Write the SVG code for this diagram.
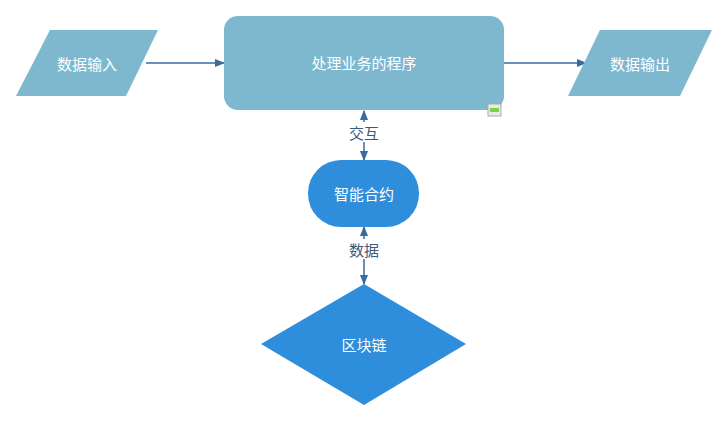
<svg xmlns="http://www.w3.org/2000/svg" width="723" height="427" viewBox="0 0 723 427">
<style>
.lt{fill:#7db8cf}
.dk{fill:#2f8edb}
.t{font-family:"Noto Sans CJK SC",sans-serif;font-size:15px;fill:#fff;text-anchor:middle;dominant-baseline:central}
.l{font-family:"Noto Sans CJK SC",sans-serif;font-size:15px;fill:#3d5a78;text-anchor:middle;dominant-baseline:central}
.c{stroke:#3a6aa0;stroke-width:1.5;fill:none}
</style>
<defs>
<marker id="a" viewBox="0 0 10 10" refX="9" refY="5" markerWidth="7" markerHeight="7" orient="auto-start-reverse"><path d="M0,1 L10,5 L0,9 z" fill="#3a6aa0"/></marker>
</defs>
<rect width="723" height="427" fill="#fff"/>
<g id="connectors">
<line class="c" x1="146" y1="63" x2="224" y2="63" marker-end="url(#a)"/>
<line class="c" x1="504" y1="63" x2="586" y2="63" marker-end="url(#a)"/>
<line class="c" x1="364" y1="111" x2="364" y2="160" marker-start="url(#a)" marker-end="url(#a)"/>
<line class="c" x1="364" y1="227" x2="364" y2="284" marker-start="url(#a)" marker-end="url(#a)"/>
<rect x="346" y="122" width="36" height="20" fill="#fff"/>
<text class="l" x="364" y="132">交互</text>
<rect x="346" y="239" width="36" height="20" fill="#fff"/>
<text class="l" x="364" y="249">数据</text>
</g>
<g id="input"><polygon class="lt" points="50,30 158,30 126,96 16,96"/><text class="t" x="87" y="63">数据输入</text></g>
<g id="process"><rect class="lt" x="224" y="16" width="280" height="94" rx="14"/><text class="t" x="364" y="62">处理业务的程序</text>
<rect x="488" y="104" width="13" height="12" fill="#e8ecd8" stroke="#aab"/><rect x="490" y="108" width="9" height="4" fill="#7ad14a"/></g>
<g id="output"><polygon class="lt" points="600,30 712,30 680,96 568,96"/><text class="t" x="640" y="63">数据输出</text></g>
<g id="contract"><rect class="dk" x="308" y="160" width="111" height="67" rx="33"/><text class="t" x="364" y="193">智能合约</text></g>
<g id="chain"><polygon class="dk" points="364,284 466,344 364,405 261,344"/><text class="t" x="364" y="344">区块链</text></g>
</svg>
